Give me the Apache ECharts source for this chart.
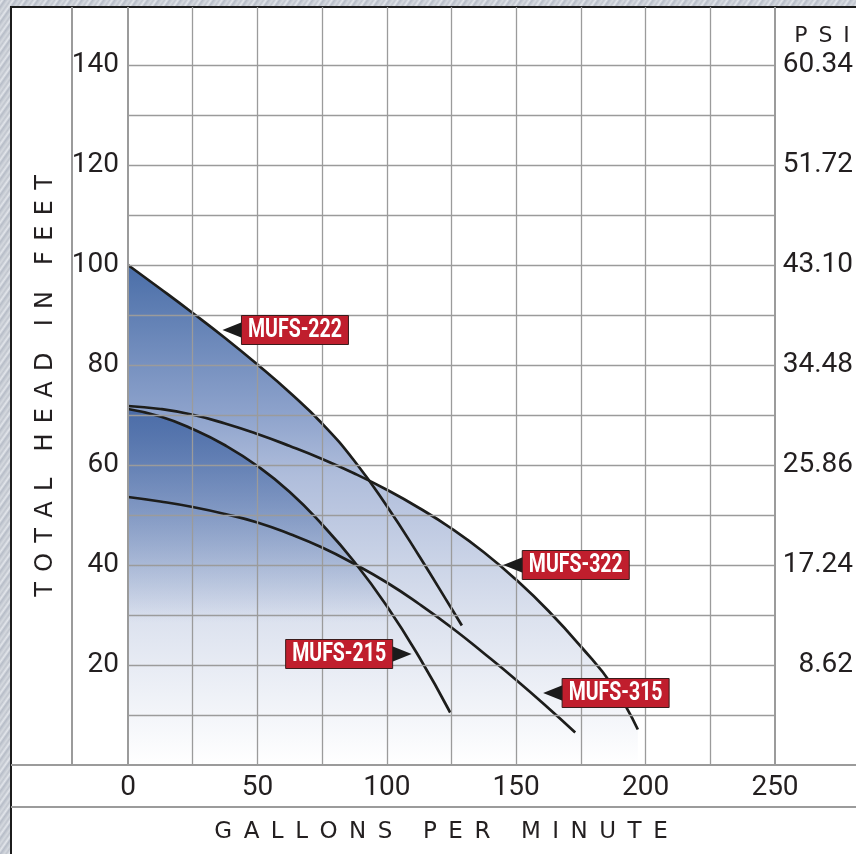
<!DOCTYPE html>
<html>
<head>
<meta charset="utf-8">
<script src="https://cdn.jsdelivr.net/npm/echarts@6/dist/echarts.min.js"></script>
<style>
html,body{margin:0;padding:0;width:856px;height:854px;overflow:hidden;}
body{background:repeating-linear-gradient(125deg,#c2c7d0 0px,#e3e6eb 2px,#b6bcc7 4px,#d5d9df 7px,#bfc4cd 9px);}
#frame{position:absolute;left:10px;top:6px;width:900px;height:900px;background:#fff;border-left:2.5px solid #1c1c1c;border-top:2.5px solid #1c1c1c;}
#chart{position:absolute;left:0;top:0;width:856px;height:854px;}
</style>
</head>
<body>
<div id="frame"></div>
<div id="chart"></div>
<script>
// ---- data ----
const xTicks = [0, 50, 100, 150, 200, 250];
const xGrid = [0, 25, 50, 75, 100, 125, 150, 175, 200, 225, 250];
const yGrid = [10, 20, 30, 40, 50, 60, 70, 80, 90, 100, 110, 120, 130, 140];
const yLabels = [20, 40, 60, 80, 100, 120, 140];
const psiLabels = ['8.62', '17.24', '25.86', '34.48', '43.10', '51.72', '60.34'];

const gpm222 = [0, 12.5, 25, 37.5, 50, 62.5, 75, 87.5, 100, 112.5, 125, 129];
const head222 = [100, 95.25, 90.4, 85.4, 80.1, 74.5, 68.3, 60.8, 51.8, 41.8, 31.3, 27.9];
const gpm322 = [0, 12.5, 25, 37.5, 50, 62.5, 75, 87.5, 100, 112.5, 125, 137.5, 150, 162.5, 175, 187.5, 197];
const head322 = [71.8, 71.2, 70.05, 68.3, 66.2, 63.8, 61.2, 58.3, 55.05, 51.4, 47.3, 42.55, 37.05, 30.8, 23.7, 15.7, 7.1];
const gpm215 = [0, 12.5, 25, 37.5, 50, 62.5, 75, 87.5, 100, 112.5, 124.5];
const head215 = [71.2, 69.7, 67.2, 63.95, 59.8, 54.6, 48.1, 40.6, 31.8, 21.6, 10.5];
const gpm315 = [0, 12.5, 25, 37.5, 50, 62.5, 75, 87.5, 100, 112.5, 125, 137.5, 150, 162.5, 172.8];
const head315 = [53.6, 52.7, 51.6, 50.2, 48.5, 46.2, 43.5, 40.2, 36.5, 32.2, 27.5, 22.35, 17, 11.35, 6.5];

const labelNames = ['MUFS-222', 'MUFS-322', 'MUFS-215', 'MUFS-315'];
const labelGpm = [36.5, 145, 109.6, 160.4];
const labelHead = [87, 40, 22.2, 14.4];
const labelBoxSide = ['right', 'right', 'left', 'right'];

const xTitle = 'GALLONS PER MINUTE';
const yTitle = 'TOTAL HEAD IN FEET';
const psiTitle = 'PSI';

// ---- helpers ----
const pts = (xs, ys) => xs.map((x, i) => [x, ys[i]]);
const NUM_FONT = "Roboto,'Liberation Sans',sans-serif";
const TITLE_FONT = "'DejaVu Sans',sans-serif";
const GRID_COLOR = '#9b9b9b';
const TEXT_COLOR = '#231f20';
const spaced = (s, gap, wordGap) => s.split(' ').map(w => w.split('').join(gap)).join(wordGap);

function hex2rgb(h) { return [1, 3, 5].map(i => parseInt(h.substr(i, 2), 16)); }
function mix(a, b, t) {
  const A = hex2rgb(a), B = hex2rgb(b);
  return 'rgb(' + A.map((v, i) => Math.round(v + (B[i] - v) * t)).join(',') + ')';
}
const shadeStops = [[100, '#4a6ea8'], [70, '#8ea3cc'], [58, '#afbddb'], [30, '#dbe1ee'], [0, '#ffffff']];
function colorAt(h) {
  for (let i = 0; i < shadeStops.length - 1; i++) {
    const [h0, c0] = shadeStops[i], [h1, c1] = shadeStops[i + 1];
    if (h <= h0 && h >= h1) return mix(c0, c1, (h0 - h) / (h0 - h1));
  }
  return shadeStops[0][1];
}
function gradFor(top) {
  const stops = [{ offset: 0, color: colorAt(top) }];
  shadeStops.forEach(([h, c]) => { if (h < top) stops.push({ offset: (top - h) / top, color: c }); });
  return { type: 'linear', x: 0, y: 0, x2: 0, y2: 1, colorStops: stops };
}

const chart = echarts.init(document.getElementById('chart'), null, { renderer: 'canvas' });

const SMOOTH = 0.5;
const lineSeries = (name, xs, ys) => ({
  name, type: 'line', data: pts(xs, ys), smooth: SMOOTH,
  showSymbol: false, symbol: 'none', silent: true, animation: false, z: 3,
  lineStyle: { color: '#1d1d1b', width: 2.7 }
});
const areaSeries = (name, xs, ys, color, z) => ({
  name: name + '-area', type: 'line', data: pts(xs, ys), smooth: SMOOTH,
  showSymbol: false, symbol: 'none', silent: true, animation: false, z: z,
  lineStyle: { width: 0, opacity: 0 }, areaStyle: { color: color, opacity: 1 }
});

const option = {
  backgroundColor: 'transparent',
  animation: false,
  grid: { left: 128, right: 78, top: 7, bottom: 89, containLabel: false },
  xAxis: {
    type: 'value', min: 0, max: 250, interval: 50,
    axisLine: { show: false }, axisTick: { show: false }, splitLine: { show: false },
    axisLabel: {
      margin: 9, fontSize: 28, fontFamily: NUM_FONT, color: TEXT_COLOR,
      formatter: v => xTicks.indexOf(v) >= 0 ? String(v) : ''
    }
  },
  yAxis: [{
    type: 'value', min: 0, max: 151.6, interval: 20, position: 'left',
    axisLine: { show: false }, axisTick: { show: false }, splitLine: { show: false },
    axisLabel: {
      margin: 9, fontSize: 28, fontFamily: NUM_FONT, color: TEXT_COLOR,
      formatter: v => yLabels.indexOf(v) >= 0 ? String(v) : ''
    }
  }, {
    type: 'value', min: 0, max: 151.6, interval: 20, position: 'right',
    axisLine: { show: false }, axisTick: { show: false }, splitLine: { show: false },
    axisLabel: {
      margin: 78, align: 'right', fontSize: 28, fontFamily: NUM_FONT, color: TEXT_COLOR,
      formatter: v => { const i = yLabels.indexOf(v); return i >= 0 ? psiLabels[i] : ''; }
    }
  }],
  series: [
    areaSeries('MUFS-322', gpm322, head322, gradFor(head322[0]), 1),
    areaSeries('MUFS-222', gpm222, head222, gradFor(head222[0]), 1),
    areaSeries('MUFS-215', gpm215, head215, {
      type: 'linear', x: 0, y: 0, x2: 0, y2: 1,
      colorStops: [{ offset: 0, color: 'rgba(72,106,166,0.95)' }, { offset: 0.6, color: 'rgba(72,106,166,0)' }, { offset: 1, color: 'rgba(72,106,166,0)' }]
    }, 1),
    {
      name: 'grid', type: 'line', data: pts(gpm315, head315), symbol: 'none', showSymbol: false,
      silent: true, animation: false, z: 2, lineStyle: { opacity: 0, width: 0 },
      markLine: {
        silent: true, animation: false, symbol: ['none', 'none'], label: { show: false },
        lineStyle: { color: GRID_COLOR, width: 1.3, type: 'solid' },
        emphasis: { disabled: true },
        data: xGrid.map(v => ({ xAxis: v, lineStyle: { width: (v === 0 || v === 250) ? 2 : 1.3, color: GRID_COLOR, type: 'solid' } }))
          .concat(yGrid.map(v => ({ yAxis: v })))
      }
    },
    lineSeries('MUFS-322', gpm322, head322),
    lineSeries('MUFS-222', gpm222, head222),
    lineSeries('MUFS-215', gpm215, head215),
    lineSeries('MUFS-315', gpm315, head315),
    {
      name: 'callouts', type: 'custom', z: 10, silent: true, animation: false, clip: false,
      data: labelNames.map((n, i) => [labelGpm[i], labelHead[i], i]),
      encode: { x: 0, y: 1 },
      renderItem: (params, api) => {
        const i = api.value(2);
        const p = api.coord([api.value(0), api.value(1)]);
        const dir = labelBoxSide[i] === 'right' ? 1 : -1;
        const aw = 19, ah = 8, bw = 107, bh = 29;
        const boxX = dir === 1 ? aw : -aw - bw;
        return {
          type: 'group', x: p[0], y: p[1],
          children: [
            { type: 'polygon', shape: { points: [[0, 0], [dir * (aw + 1), -ah], [dir * (aw + 1), ah]] }, style: { fill: '#1b1b1b' } },
            { type: 'rect', shape: { x: boxX, y: -bh / 2, width: bw, height: bh }, style: { fill: '#c01e2d', stroke: '#3a1c1c', lineWidth: 1 } },
            {
              type: 'text', x: boxX + bw / 2, y: 1, scaleX: 0.78,
              style: {
                text: labelNames[i], fill: '#ffffff', font: 'bold 25px Roboto, sans-serif',
                align: 'center', verticalAlign: 'middle', textAlign: 'center', textVerticalAlign: 'middle'
              }
            }
          ]
        };
      }
    }
  ]
};
chart.setOption(option);

// ---- frame lines and titles ----
const origin = chart.convertToPixel({ gridIndex: 0 }, [0, 0]);
const topPx = chart.convertToPixel({ gridIndex: 0 }, [0, 151.6]);
chart.setOption({
  graphic: {
    elements: [
      { type: 'line', z: 50, silent: true, shape: { x1: 72, y1: topPx[1], x2: 72, y2: origin[1] }, style: { stroke: GRID_COLOR, lineWidth: 2 } },
      { type: 'line', z: 50, silent: true, shape: { x1: 11, y1: origin[1], x2: 856, y2: origin[1] }, style: { stroke: GRID_COLOR, lineWidth: 2.2 } },
      { type: 'line', z: 50, silent: true, shape: { x1: 11, y1: 807, x2: 856, y2: 807 }, style: { stroke: GRID_COLOR, lineWidth: 2 } },
      {
        type: 'text', z: 50, silent: true, x: 441, y: 832,
        style: { text: spaced(xTitle, '\u2002', '\u2002\u2002\u2004'), fill: TEXT_COLOR, font: '23px ' + TITLE_FONT, align: 'center', verticalAlign: 'middle', textAlign: 'center', textVerticalAlign: 'middle' }
      },
      {
        type: 'text', z: 50, silent: true, x: 46, y: 386, rotation: Math.PI / 2,
        style: { text: spaced(yTitle, '\u2004\u200A', '\u2004\u2004\u2004\u200A'), fill: TEXT_COLOR, font: '24px ' + TITLE_FONT, align: 'center', verticalAlign: 'middle', textAlign: 'center', textVerticalAlign: 'middle' }
      },
      {
        type: 'text', z: 50, silent: true, x: 822, y: 36,
        style: { text: spaced(psiTitle, '\u2002', '\u2002'), fill: TEXT_COLOR, font: '22px ' + TITLE_FONT, align: 'center', verticalAlign: 'middle', textAlign: 'center', textVerticalAlign: 'middle' }
      }
    ]
  }
});
</script>
</body>
</html>
